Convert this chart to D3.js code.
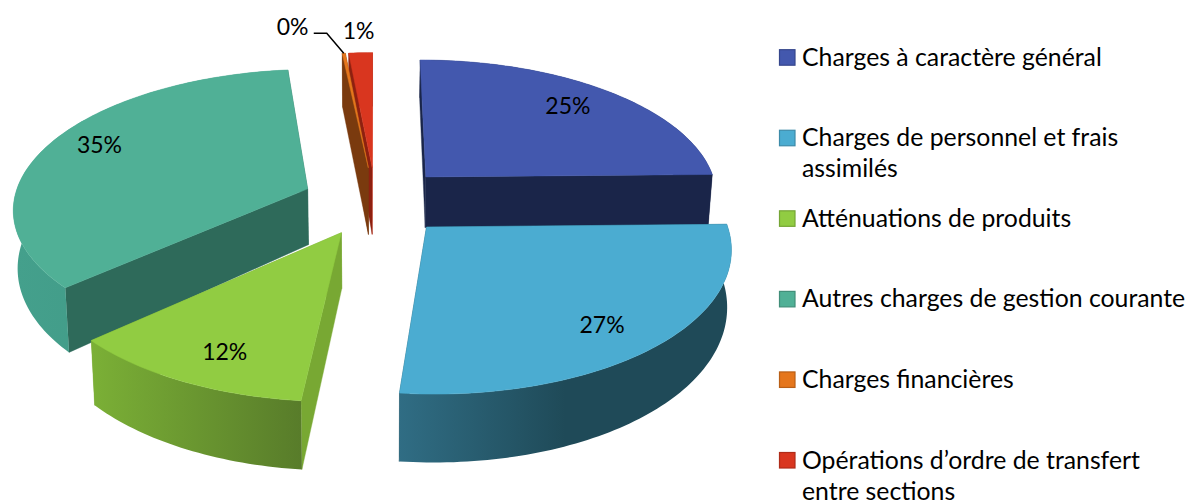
<!DOCTYPE html>
<html>
<head>
<meta charset="utf-8">
<script src="https://cdnjs.cloudflare.com/ajax/libs/d3/7.8.5/d3.min.js"></script>
<style>
html, body { margin: 0; padding: 0; background: #fff; overflow: hidden; }
text { font-family: Lato, "Open Sans", sans-serif; fill: #000; }
</style>
</head>
<body>
<svg id="chart" width="1186" height="501"></svg>
<script>
// data
var categories = ["Charges à caractère général", "Charges de personnel et frais assimilés", "Atténuations de produits", "Autres charges de gestion courante", "Charges financières", "Opérations d’ordre de transfert entre sections"];
var values = [24.7, 26.9, 11.7, 35.0, 0.2, 1.5];
var valueLabels = ["25%", "27%", "12%", "35%", "0%", "1%"];

// colours
var topColors = ["#4358ae", "#4bacd1", "#91cc42", "#50b096", "#e5761c", "#d9361f"];
var edgeColors = ["#1a2549", "#205060", "#78a833", "#2e6a5a", "#7a3a0e", "#8e2010"];
var endEdgeColors = ["#1a2549", "#205060", "#78a833", "#2e6a5a", "#7a3a0e", "#d9361f"];
var wallLeft = ["#1a2549", "#306d84", "#7bb036", "#44a08c", "#7a3a0e", "#8e2010"];
var wallRight = ["#1a2549", "#1f4a58", "#587c2a", "#3f9482", "#7a3a0e", "#8e2010"];

// label placement, r along the middle of the slice then a small nudge
var labelR = [0.75, 0.8, 0.83, 0.8, 1.1, 1.1];
var labelNudge = [[4, -5], [-6, 6], [13, -1], [-1, -7], [-49, -16], [-1, -12]];

// slices that hang a bit lower in the picture
var extraDepth = [0, 0, 0, 4, 17, 17];

// pie projection
var cx = 375.5, cy = 201;
var ax = 294, ay = 138, persp = 0.13;
var explode = 0.25;

function project(X, Y, bottom, extra) {
	var w = 1 + Y * persp;
	var x = cx + ax * X / w;
	var y = cy - ay * Y / w;
	if (bottom) {
		x = cx + (x - cx) * 0.988;
		y += 53 - 13 * Y + (extra || 0);
	}
	return [x, y];
}

var svg = d3.select("#chart");
var defs = svg.append("defs");
var line = d3.line();

var pie = d3.pie().sort(null)(values);

pie.forEach(function(d, i) {
	d.mid = (d.startAngle + d.endAngle) / 2;
	d.X0 = explode * Math.sin(d.mid);
	d.Y0 = explode * Math.cos(d.mid);
	d.i = i;
});

function rimPoint(d, a, bottom) {
	return project(d.X0 + Math.sin(a), d.Y0 + Math.cos(a), bottom, extraDepth[d.i]);
}

function arcAngles(d) {
	var n = Math.max(2, Math.ceil((d.endAngle - d.startAngle) / 0.02));
	return d3.range(n + 1).map(function(k) {
		return d.startAngle + (d.endAngle - d.startAngle) * k / n;
	});
}

// slices drawn back to front
var order = pie.slice().sort(function(a, b) { return b.Y0 - a.Y0; });

order.forEach(function(d) {
	var i = d.i;
	var g = svg.append("g").attr("class", "slice");
	var angles = arcAngles(d);
	var apex = project(d.X0, d.Y0, false);
	var apexB = project(d.X0, d.Y0, true, extraDepth[i]);

	// flat walls along the two cut edges, furthest first
	var walls = [[d.startAngle, edgeColors[i]], [d.endAngle, endEdgeColors[i]]].map(function(e) {
		return {pts: [apex, rimPoint(d, e[0], false), rimPoint(d, e[0], true), apexB], y: rimPoint(d, e[0], false)[1], color: e[1]};
	}).sort(function(a, b) { return a.y - b.y; });
	walls.forEach(function(w) {
		g.append("path").attr("d", line(w.pts) + "Z")
			.attr("fill", w.color).attr("stroke", w.color).attr("stroke-width", 0.4);
	});

	// outer wall
	var topRim = angles.map(function(a) { return rimPoint(d, a, false); });
	var botRim = angles.map(function(a) { return rimPoint(d, a, true); });
	var xr = d3.extent(topRim.concat(botRim), function(p) { return p[0]; });
	var grad = defs.append("linearGradient").attr("id", "wall" + i)
		.attr("gradientUnits", "userSpaceOnUse")
		.attr("x1", xr[0]).attr("x2", xr[1]).attr("y1", 0).attr("y2", 0);
	grad.append("stop").attr("offset", 0).attr("stop-color", wallLeft[i]);
	grad.append("stop").attr("offset", i == 1 ? 0.5 : 1).attr("stop-color", wallRight[i]);
	g.append("path").attr("d", line(topRim.concat(botRim.slice().reverse())) + "Z")
		.attr("fill", "url(#wall" + i + ")");

	// top face
	g.append("path").attr("d", line([apex].concat(topRim)) + "Z")
		.attr("fill", topColors[i]).attr("stroke", topColors[i]).attr("stroke-width", 0.5);
});

// leader line from the 0% label to its slice
var tiny = pie[4];
var tinyRim = rimPoint(tiny, tiny.mid, false);
svg.append("path").attr("class", "leader")
	.attr("d", line([[tinyRim[0] - 30, tinyRim[1] - 20], [tinyRim[0] - 17, tinyRim[1] - 20], tinyRim]))
	.attr("fill", "none").attr("stroke", "#000").attr("stroke-width", 1.5);

// value labels
pie.forEach(function(d, i) {
	var r = labelR[i];
	var p = project(d.X0 + r * Math.sin(d.mid), d.Y0 + r * Math.cos(d.mid), false);
	svg.append("text").attr("class", "value")
		.attr("x", p[0] + labelNudge[i][0]).attr("y", p[1] + labelNudge[i][1] + 8)
		.attr("text-anchor", "middle").attr("font-size", 23)
		.text(valueLabels[i]);
});

// legend
var legendY = d3.scalePoint().domain(categories).range([57.7, 460.5]);
var legend = svg.append("g").attr("class", "legend");

categories.forEach(function(name, i) {
	var y = legendY(name);
	legend.append("rect").attr("x", 779.5).attr("y", y - 8).attr("width", 15.5).attr("height", 15.5)
		.attr("fill", topColors[i]).attr("stroke", d3.color(topColors[i]).darker(0.6)).attr("stroke-width", 1.2);
	var text = legend.append("text").attr("x", 802).attr("y", y + 8).attr("font-size", 24.8);
	// wrap on words at the legend width
	var words = name.split(" "), cur = [];
	var tspan = text.append("tspan").attr("x", 802).attr("dy", 0);
	words.forEach(function(word) {
		cur.push(word);
		tspan.text(cur.join(" "));
		if (tspan.node().getComputedTextLength() > 385) {
			cur.pop();
			tspan.text(cur.join(" "));
			cur = [word];
			tspan = text.append("tspan").attr("x", 802).attr("dy", 31).text(word);
		}
	});
});
</script>
</body>
</html>
